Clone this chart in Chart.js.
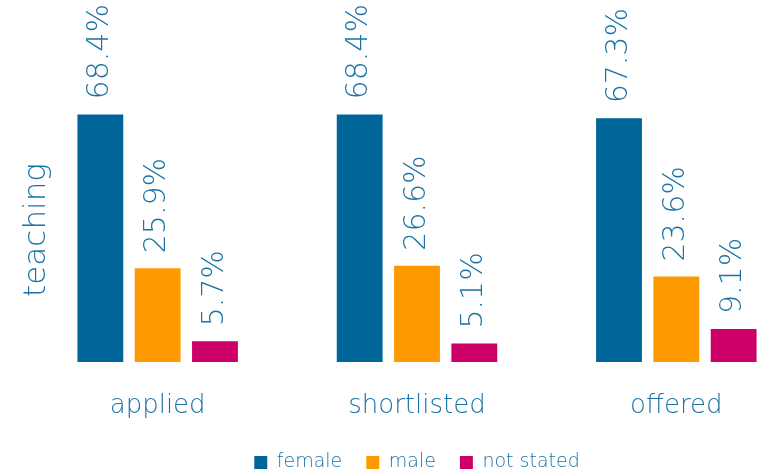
<html>
  <head>
    <meta charset="utf-8">
    <title>teaching</title>
    <script src="https://cdn.jsdelivr.net/npm/chart.js@4/dist/chart.umd.min.js"></script>
    <style>
      body { margin: 0; overflow: hidden; background: #fff; }
      #wrap { width: 806px; height: 475px; }
    </style>
  </head>
  <body>
    <div id="wrap"><canvas id="myChart"></canvas></div>
    <script type="text/javascript">
      // data
      const stages = ["applied", "shortlisted", "offered"];
      const female = [68.4, 68.4, 67.3];
      const male = [25.9, 26.6, 23.6];
      const notStated = [5.7, 5.1, 9.1];
      const sideTitle = "teaching";

      const textBlue = '#1a72a6';
      const fontName = "'DejaVu Sans', sans-serif";

      // rotated value labels above each bar
      const valueLabels = {
        id: 'valueLabels',
        afterDatasetsDraw(chart) {
          const ctx = chart.ctx;
          ctx.save();
          ctx.fillStyle = textBlue;
          ctx.font = '200 30px ' + fontName;
          ctx.textAlign = 'left';
          ctx.textBaseline = 'middle';
          chart.data.datasets.forEach((ds, i) => {
            chart.getDatasetMeta(i).data.forEach((bar, j) => {
              ctx.save();
              ctx.translate(bar.x, bar.y - 15);
              ctx.rotate(-Math.PI / 2);
              ctx.fillText(ds.data[j].toFixed(1) + '%', 0, 0);
              ctx.restore();
            });
          });
          ctx.restore();
        }
      };

      // "teaching" on the left side
      const leftTitle = {
        id: 'leftTitle',
        afterDraw(chart) {
          const ctx = chart.ctx;
          const area = chart.chartArea;
          ctx.save();
          ctx.fillStyle = textBlue;
          ctx.font = '200 31px ' + fontName;
          ctx.textAlign = 'center';
          ctx.textBaseline = 'middle';
          ctx.translate(37, area.bottom - 132);
          ctx.rotate(-Math.PI / 2);
          ctx.fillText(sideTitle, 0, 0);
          ctx.restore();
        }
      };

      var ctx = document.getElementById('myChart').getContext('2d');
      var chart = new Chart(ctx, {
        type: 'bar',
        data: {
          labels: stages,
          datasets: [
            { label: 'female', data: female, backgroundColor: '#006699' },
            { label: 'male', data: male, backgroundColor: '#ff9900' },
            { label: 'not stated', data: notStated, backgroundColor: '#cc0066' }
          ]
        },
        options: {
          responsive: true,
          maintainAspectRatio: false,
          animation: false,
          categoryPercentage: 0.663,
          barPercentage: 0.8,
          layout: { padding: { top: 0, left: 0, right: 0, bottom: -7 } },
          scales: {
            x: {
              grid: { display: false },
              border: { display: false },
              ticks: {
                color: textBlue,
                padding: 21,
                font: { family: fontName, size: 26, weight: 200 }
              },
              afterFit(scale) { scale.height = 67; }
            },
            y: {
              min: 0,
              max: 100,
              grid: { display: false },
              border: { display: false },
              ticks: { display: false },
              afterFit(scale) { scale.width = 28; }
            }
          },
          plugins: {
            tooltip: { enabled: false },
            legend: {
              position: 'bottom',
              fullSize: false,
              labels: {
                color: textBlue,
                boxWidth: 13,
                boxHeight: 13,
                padding: 24,
                font: { family: fontName, size: 19, weight: 200 }
              }
            }
          }
        },
        plugins: [valueLabels, leftTitle]
      });
    </script>
  </body>
</html>
